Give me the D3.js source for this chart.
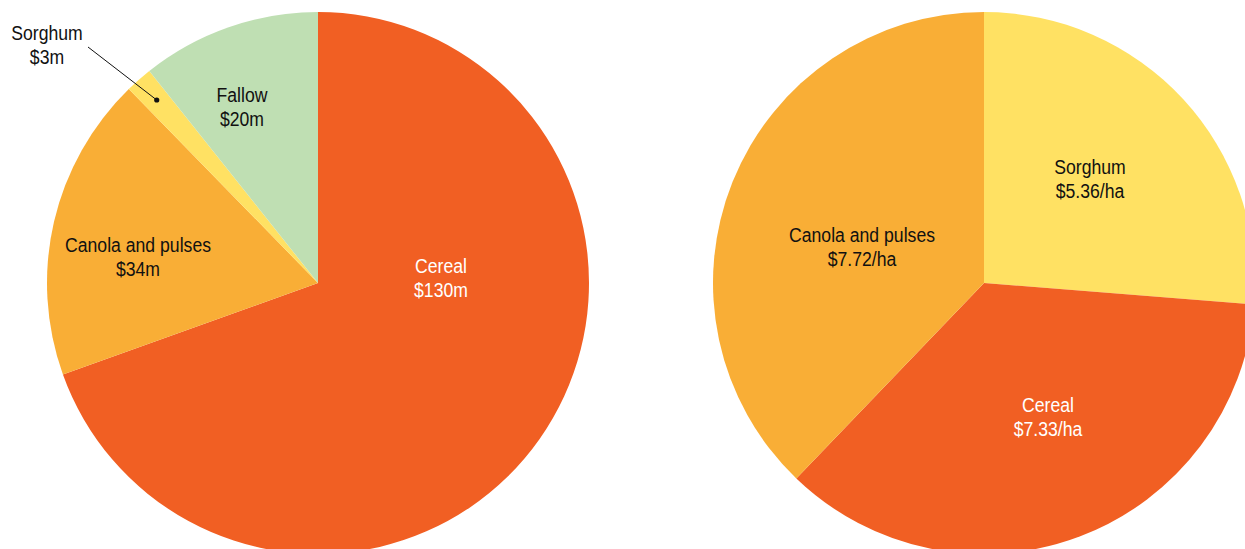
<!DOCTYPE html>
<html>
<head>
<meta charset="utf-8">
<script src="https://cdn.jsdelivr.net/npm/d3@7"></script>
<style>
  html, body { margin: 0; padding: 0; background: #fff; overflow: hidden; }
  svg { display: block; }
  text { font-family: "Liberation Sans Narrow", "Arial Narrow", "Liberation Sans", Arial, sans-serif; font-size: 21px; }
</style>
</head>
<body>
<svg id="chart" width="1245" height="549"></svg>
<script>
// Gross value by crop ($m)
const valueCategories = ["Cereal", "Canola and pulses", "Sorghum", "Fallow"];
const valueAmounts = [130, 34, 3, 20];
const valueLabels = ["$130m", "$34m", "$3m", "$20m"];

// Value per hectare by crop ($/ha)
const perHaCategories = ["Sorghum", "Cereal", "Canola and pulses"];
const perHaAmounts = [5.36, 7.33, 7.72];
const perHaLabels = ["$5.36/ha", "$7.33/ha", "$7.72/ha"];

const colors = {
  "Cereal": "#F15F23",
  "Canola and pulses": "#F9AE36",
  "Sorghum": "#FFE163",
  "Fallow": "#BFDFB3"
};
const textColors = { "Cereal": "#ffffff" };

const svg = d3.select("#chart");
const radius = 271;
// Condensed look for the label typeface
const textSqueeze = 0.84;

// Label anchor offsets from each pie's centre
const leftLabelPos = {
  "Cereal": [123, -10],
  "Canola and pulses": [-180, -31],
  "Fallow": [-76, -181],
  "Sorghum": [-271, -243]
};
const rightLabelPos = {
  "Sorghum": [106, -109],
  "Cereal": [64, 129],
  "Canola and pulses": [-122, -41]
};

function drawPie(cx, cy, cats, vals, labels, labelPos, callout) {
  const data = cats.map((c, i) => ({ cat: c, value: vals[i], label: labels[i] }));
  const pie = d3.pie().sort(null).value(d => d.value).startAngle(0).endAngle(2 * Math.PI);
  const arc = d3.arc().innerRadius(0).outerRadius(radius);
  const g = svg.append("g").attr("transform", `translate(${cx},${cy})`);
  const arcs = pie(data);

  g.selectAll("path.slice")
    .data(arcs)
    .join("path")
    .attr("class", "slice")
    .attr("d", arc)
    .attr("fill", d => colors[d.data.cat]);

  const lineGap = 24;
  const lbl = g.selectAll("text.lbl")
    .data(arcs)
    .join("text")
    .attr("class", "lbl")
    .attr("text-anchor", "middle")
    .attr("fill", d => textColors[d.data.cat] || "#111")
    .attr("transform", d => {
      const p = labelPos[d.data.cat];
      return `translate(${p[0]},${p[1]}) scale(${textSqueeze},1)`;
    });
  lbl.append("tspan").attr("x", 0).attr("y", 0).text(d => d.data.cat);
  lbl.append("tspan").attr("x", 0).attr("y", lineGap).text(d => d.data.label);

  // Callout for the thin slice
  if (callout) {
    const a = arcs.find(d => d.data.cat === callout.cat);
    const mid = (a.startAngle + a.endAngle) / 2;
    const r = radius * callout.depth;
    const px = Math.sin(mid) * r, py = -Math.cos(mid) * r;
    g.append("line")
      .attr("x1", callout.from[0]).attr("y1", callout.from[1])
      .attr("x2", px).attr("y2", py)
      .attr("stroke", "#111").attr("stroke-width", 1);
    g.append("circle").attr("cx", px).attr("cy", py).attr("r", 2.6).attr("fill", "#111");
  }
}

drawPie(318, 283, valueCategories, valueAmounts, valueLabels, leftLabelPos,
  { cat: "Sorghum", depth: 0.9, from: [-230, -236] });
drawPie(984, 283, perHaCategories, perHaAmounts, perHaLabels, rightLabelPos, null);
</script>
</body>
</html>
